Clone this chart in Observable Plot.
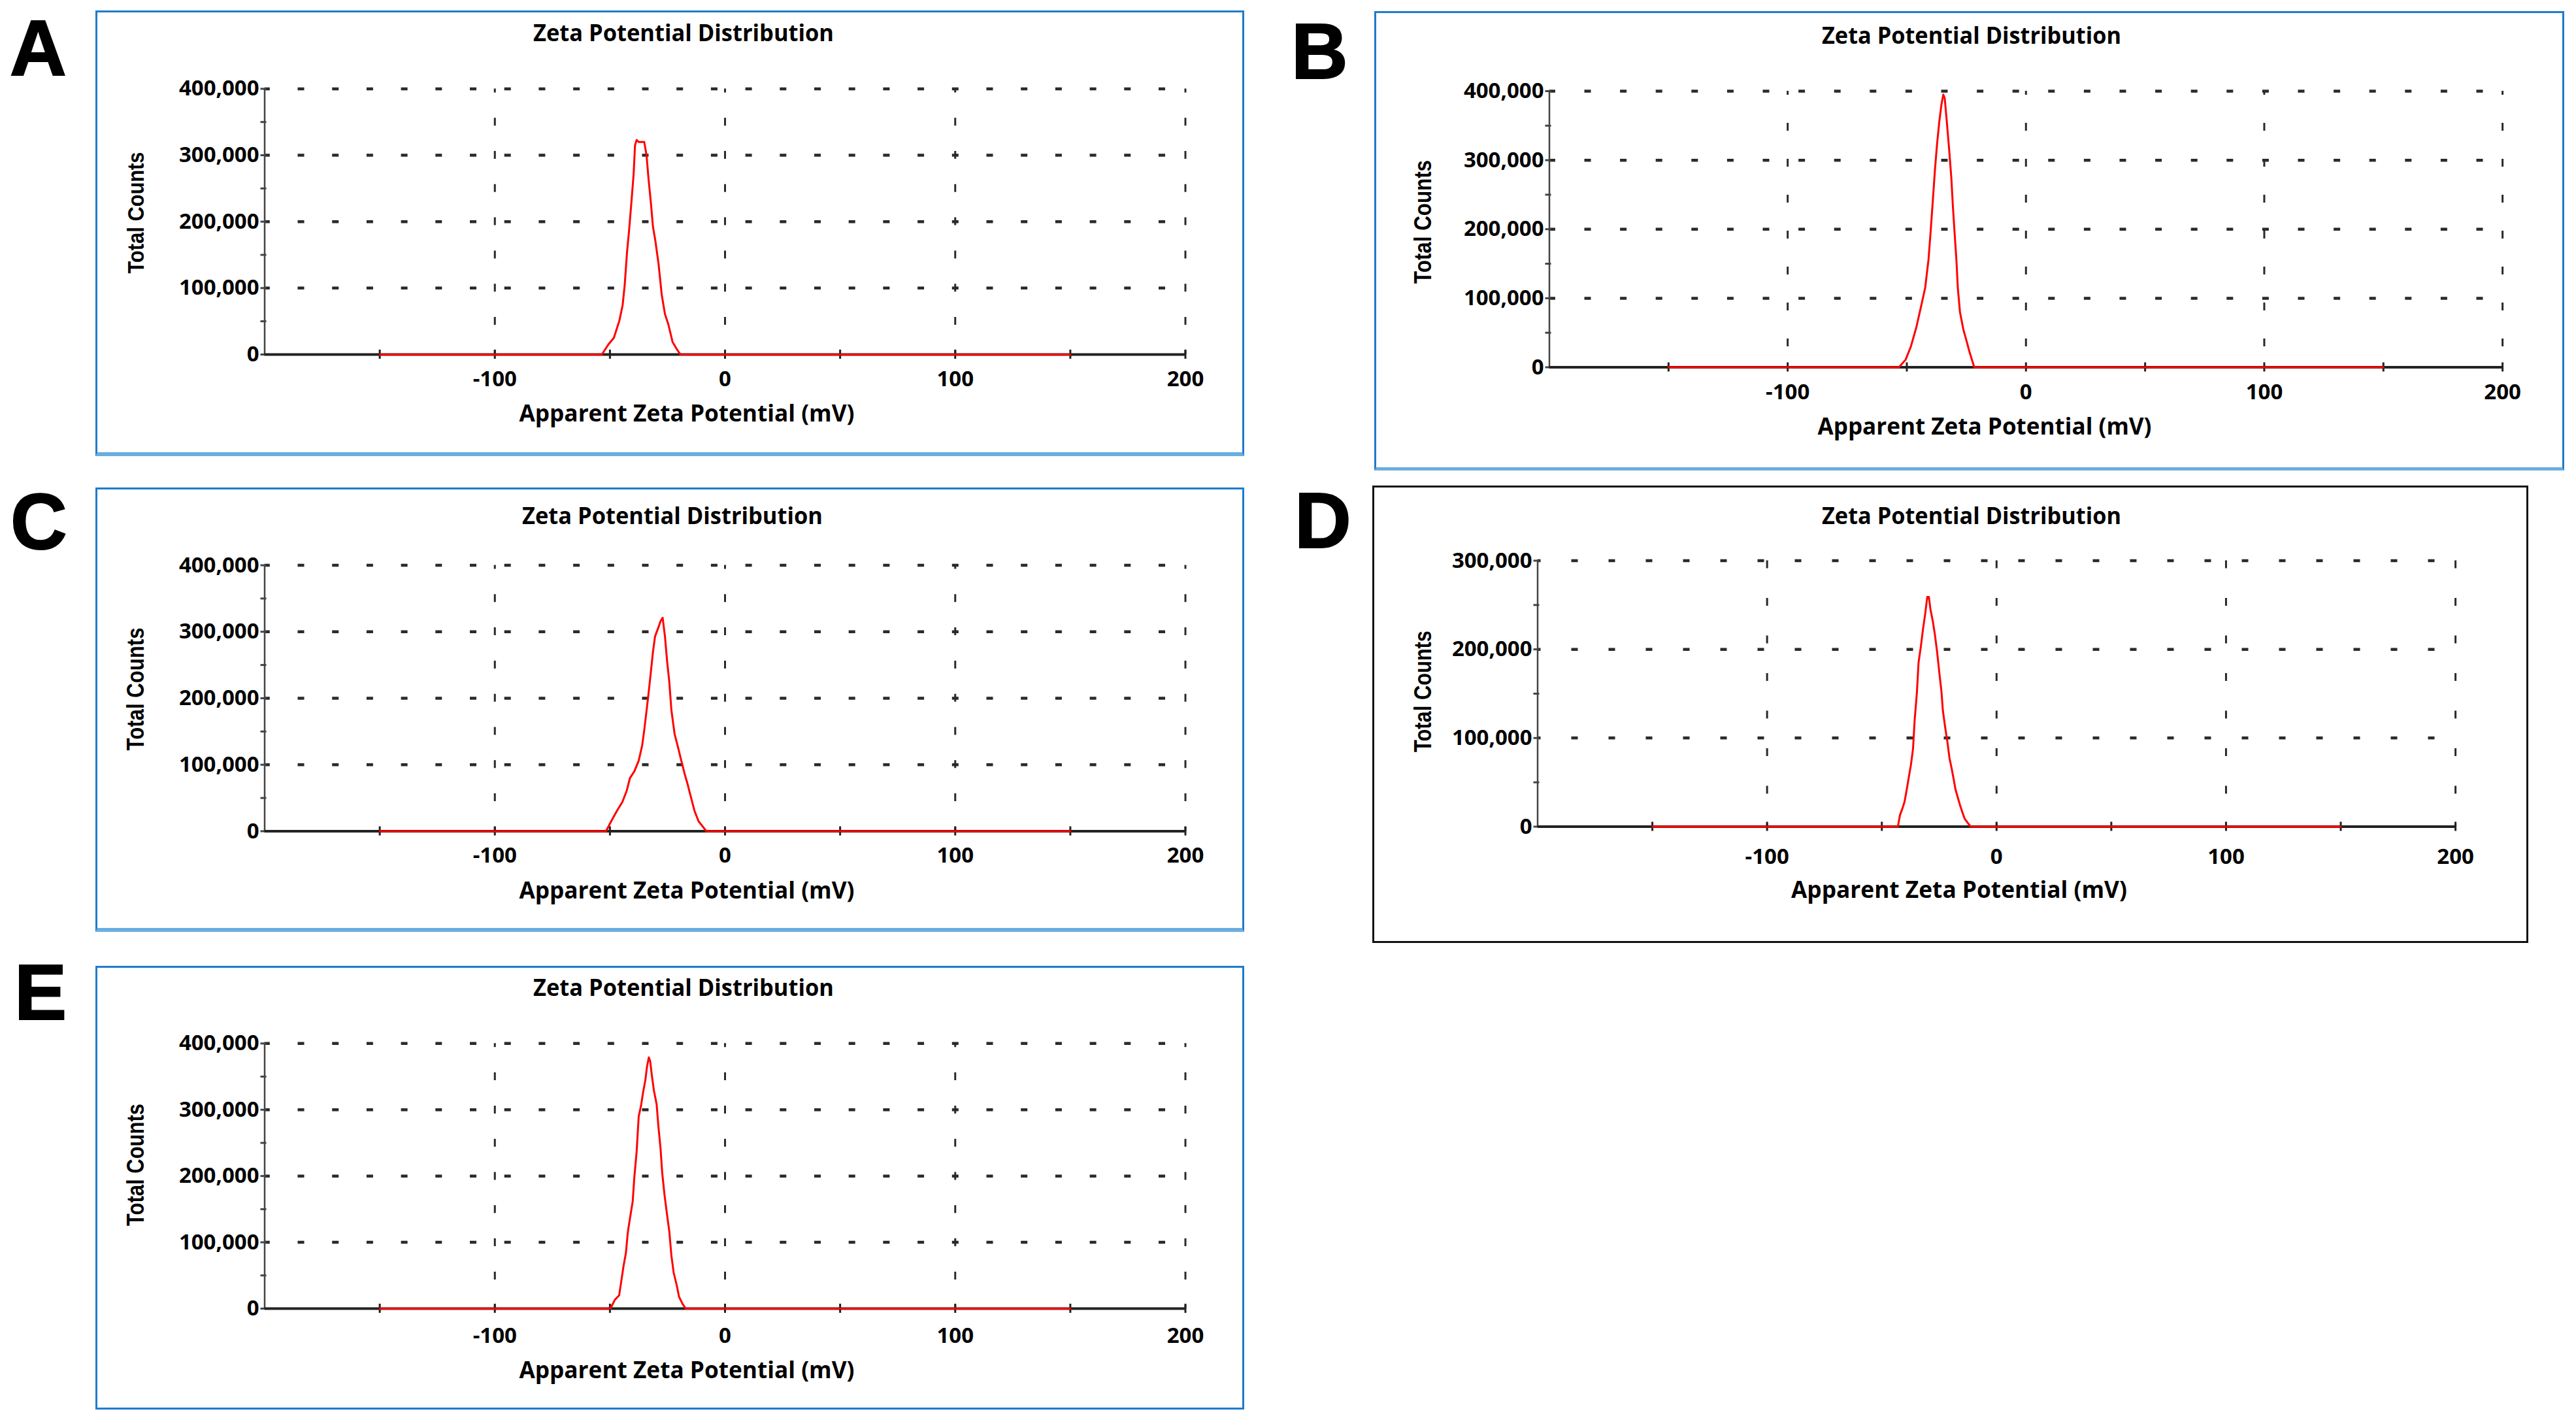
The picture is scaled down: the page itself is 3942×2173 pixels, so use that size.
<!DOCTYPE html>
<html>
<head>
<meta charset="utf-8">
<script src="https://cdn.jsdelivr.net/npm/d3@7"></script>
<script src="https://cdn.jsdelivr.net/npm/@observablehq/plot@0.6"></script>
<style>
html, body { margin: 0; padding: 0; background: #fff; }
#page { position: relative; width: 3942px; height: 2173px; background: #fff; overflow: hidden; }
.box { position: absolute; box-sizing: border-box; pointer-events: none; }
.panel { position: absolute; }
</style>
</head>
<body>
<div id="page"></div>
<script>
// ---------- data ----------
const mvA  = [-150, -53.5, -50.7, -48.3, -45.9, -44.5, -43.6, -42.6, -41.7, -40.7, -39.7, -39.1, -38.4, -37.5, -35.1, -34.1, -33.2, -32.2, -31.3, -30.3, -28.9, -27.5, -26.1, -24.6, -22.8, -21.3, -19.4, 150];
const cntA = [0, 0, 15000, 25000, 51000, 74000, 104000, 153000, 186000, 228000, 272000, 315000, 323000, 320000, 320000, 300000, 263000, 228000, 192000, 172000, 137000, 90000, 61000, 45000, 19000, 10000, 0, 0];

const mvB  = [-150, -53.3, -50.5, -48.3, -46, -44.1, -42.3, -40.9, -40, -39.1, -38.2, -37.3, -36.4, -35.5, -34.7, -34.1, -33.2, -32.2, -31.3, -30.7, -30, -29.2, -28.6, -27.7, -26.3, -25, -23.6, -21.7, 150];
const cntB = [0, 0, 11000, 30000, 58000, 87000, 115000, 156000, 197000, 241000, 286000, 324000, 355000, 380000, 395000, 390000, 355000, 314000, 273000, 235000, 197000, 156000, 115000, 80000, 55000, 39000, 21000, 0, 0];

const mvC  = [-150, -51.7, -49.3, -46.9, -44.6, -42.7, -41.3, -39.4, -37.5, -36, -35.1, -34.2, -33.2, -32.3, -31.3, -30.4, -29, -28, -27.1, -26.1, -25.2, -24.2, -23.3, -21.9, -20.4, -19, -17.6, -16.2, -14.8, -13.3, -11.5, -8.1, 150];
const cntC = [0, 0, 16000, 31000, 44000, 61000, 80000, 90000, 106000, 129000, 152000, 178000, 208000, 237000, 270000, 293000, 306000, 316000, 321000, 293000, 257000, 224000, 182000, 146000, 126000, 106000, 87000, 70000, 51000, 31000, 15000, 0, 0];

const mvD  = [-150, -43, -42.1, -41.1, -40.1, -39.2, -38.3, -37.3, -36.4, -35.7, -34.7, -34, -33, -32.1, -31.1, -30.2, -29.5, -28.8, -27.8, -26.9, -25.9, -25, -24, -23.4, -22.4, -21.5, -20.5, -19.6, -18.8, -17.9, -16.9, -15.9, -15, -13.9, -12.2, -11.3, 150];
const cntD = [0, 0, 13000, 20000, 28000, 41000, 55000, 70000, 88000, 120000, 152000, 185000, 203000, 222000, 240000, 259000, 259000, 245000, 232000, 217000, 197000, 175000, 152000, 131000, 112000, 97000, 77000, 66000, 55000, 42000, 33000, 24000, 17000, 9000, 3000, 0, 0];

const mvE  = [-150, -49.8, -47.9, -46, -45, -44.1, -43.1, -42.2, -41.3, -40.1, -39.4, -38.4, -37.5, -36.5, -35.6, -34.6, -33.9, -33.1, -32.5, -31.8, -30.9, -29.7, -29, -28, -27.3, -26.3, -25.2, -24.2, -23.3, -22.3, -20.9, -20, -18.6, -17.1, 150];
const cntE = [0, 0, 13000, 20000, 43000, 64000, 83000, 116000, 136000, 162000, 198000, 237000, 290000, 306000, 326000, 345000, 365000, 379000, 373000, 352000, 329000, 308000, 277000, 241000, 205000, 172000, 142000, 116000, 80000, 54000, 34000, 18000, 8000, 0, 0];

// ---------- ticks and texts ----------
const xLabelTicks = [-100, 0, 100, 200];
const xAxisTicks  = [-150, -100, -50, 0, 50, 100, 150, 200];
const yTicks400   = [0, 100000, 200000, 300000, 400000];
const yTicks300   = [0, 100000, 200000, 300000];
const yMinor400   = [0, 50000, 100000, 150000, 200000, 250000, 300000, 350000, 400000];
const yMinor300   = [0, 50000, 100000, 150000, 200000, 250000, 300000];
const titleText  = "Zeta Potential Distribution";
const xLabelText = "Apparent Zeta Potential (mV)";
const yLabelText = "Total Counts";

// ---------- layout (pixels) ----------
const BLUE = "#1f7bcc", LIGHT = "#6aaee0", BLACK = "#111";
const panels = [
  {id: "A", mv: mvA, cnt: cntA, yMax: 400000, yTicks: yTicks400, yMinor: yMinor400,
   box: [145.5, 16, 1904, 697.7], plot: [404, 135.4, 1813, 542], color: BLUE, bottom: [6, LIGHT],
   hDot: {period: 52.7, start: 51}, vDash: {period: 50.8, off: 6}, xPad: 37.5,
   title: [1045, 51.5, 460], xlab: [1050, 633.5, 513], ylab: [207, 325, 186], letter: [15, 115]},
  {id: "B", mv: mvB, cnt: cntB, yMax: 400000, yTicks: yTicks400, yMinor: yMinor400,
   box: [2102.5, 17, 3924, 720], plot: [2370, 139, 3828.6, 561.5], color: BLUE, bottom: [5, LIGHT],
   hDot: {period: 54.6, start: 54}, vDash: {period: 55, off: 6}, xPad: 37.5,
   title: [3016, 55, 458], xlab: [3036, 653, 511], ylab: [2177, 339, 189], letter: [1976, 120]},
  {id: "C", mv: mvC, cnt: cntC, yMax: 400000, yTicks: yTicks400, yMinor: yMinor400,
   box: [145.5, 746, 1904, 1426], plot: [404, 864.5, 1813, 1271.5], color: BLUE, bottom: [6, LIGHT],
   hDot: {period: 52.7, start: 51}, vDash: {period: 50.8, off: 6}, xPad: 36.5,
   title: [1028, 790, 460], xlab: [1050, 1363.5, 513], ylab: [207, 1054, 188], letter: [16, 840]},
  {id: "D", mv: mvD, cnt: cntD, yMax: 300000, yTicks: yTicks300, yMinor: yMinor300,
   box: [2099.5, 742.5, 3869, 1443], plot: [2352, 857, 3756.6, 1264], color: BLACK, bottom: [3, BLACK],
   hDot: {period: 57, start: 52}, vDash: {period: 57.5, off: 0}, xPad: 45.5,
   title: [3016, 790, 458], xlab: [2997, 1361.5, 514], ylab: [2177, 1057, 186], letter: [1981, 838]},
  {id: "E", mv: mvE, cnt: cntE, yMax: 400000, yTicks: yTicks400, yMinor: yMinor400,
   box: [145.5, 1478, 1904, 2157], plot: [404, 1596.3, 1813, 2002], color: BLUE, bottom: [3, BLUE],
   hDot: {period: 52.7, start: 51}, vDash: {period: 50.8, off: 6}, xPad: 41,
   title: [1045, 1512, 460], xlab: [1050, 2097.5, 513], ylab: [207, 1782, 187], letter: [22, 1560]}
];

const page = document.getElementById("page");
const FONT = "'Open Sans', 'DejaVu Sans', sans-serif";

function makePanel(p) {
  const [bx0, by0, bx1, by1] = p.box;
  const [pl, pt, pr, pb] = p.plot;
  const data = p.mv.map((v, i) => ({mv: v, count: p.cnt[i]}));
  const grid = p.yTicks.filter(d => d > 0);
  const hd = p.hDot, vd = p.vDash;
  const label = (s, pos, extra) => Plot.text([s], {
    text: d => d, frameAnchor: "top-left", textAnchor: "middle", lineAnchor: "middle",
    dx: pos[0] - pl, dy: pos[1] - pt, ...extra
  });
  const svg = Plot.plot({
    width: bx1 - bx0,
    height: by1 - by0,
    marginLeft: pl - bx0,
    marginRight: bx1 - pr,
    marginTop: pt - by0,
    marginBottom: by1 - pb,
    x: {type: "linear", domain: [-200, 200]},
    y: {type: "linear", domain: [0, p.yMax]},
    style: {fontFamily: FONT, fontSize: "33px", fontWeight: "bold", color: "#000", background: "transparent", overflow: "visible"},
    marks: [
      Plot.ruleY(grid, {stroke: "#2a2a2a", strokeWidth: 4.5, strokeDasharray: `10 ${hd.period - 10}`, strokeDashoffset: hd.period - hd.start}),
      Plot.ruleX(xLabelTicks, {stroke: "#2a2a2a", strokeWidth: 3, strokeDasharray: `12 ${vd.period - 12}`, strokeDashoffset: vd.off}),
      Plot.ruleX([-200], {stroke: "#444", strokeWidth: 2.5}),
      Plot.ruleY(p.yMinor, {x1: -200, x2: -200, insetLeft: -6, insetRight: -3, stroke: "#444", strokeWidth: 3}),
      Plot.ruleY([0], {stroke: "#222", strokeWidth: 4}),
      Plot.ruleX(xAxisTicks, {y1: 0, y2: 0, insetTop: -7, insetBottom: -7, stroke: "#222", strokeWidth: 3}),
      Plot.line(data, {x: "mv", y: "count", stroke: "#ff0000", strokeWidth: 3}),
      Plot.axisY({ticks: p.yTicks, tickFormat: d3.format(","), tickSize: 0, tickPadding: 8.5, label: null}),
      Plot.axisX({ticks: xLabelTicks, tickFormat: d => String(d), tickSize: 0, tickPadding: p.xPad - 12, label: null}),
      label(titleText, p.title, {fontSize: 35, fontWeight: "bold"}),
      label(xLabelText, p.xlab, {fontSize: 35, fontWeight: "bold"}),
      label(yLabelText, p.ylab, {rotate: -90, fontSize: 36, fontWeight: "bold", fontFamily: "'Liberation Sans', Arial, sans-serif"})
    ]
  });
  svg.classList.add("panel");
  svg.style.left = bx0 + "px";
  svg.style.top = by0 + "px";
  page.appendChild(svg);
  svg.querySelectorAll("text").forEach(t => {
    const s = t.textContent;
    let len = null;
    if (s === titleText) len = p.title[2];
    else if (s === xLabelText) len = p.xlab[2];
    else if (s === yLabelText) len = p.ylab[2];
    if (len) { t.setAttribute("textLength", len); t.setAttribute("lengthAdjust", "spacingAndGlyphs"); }
  });
  const box = document.createElement("div");
  box.className = "box";
  box.style.left = bx0 + "px";
  box.style.top = by0 + "px";
  box.style.width = (bx1 - bx0) + "px";
  box.style.height = (by1 - by0) + "px";
  box.style.border = `3px solid ${p.color}`;
  box.style.borderBottom = `${p.bottom[0]}px solid ${p.bottom[1]}`;
  page.appendChild(box);
}

panels.forEach(makePanel);

// panel letters
const ov = d3.select(page).append("svg")
  .attr("width", 3942).attr("height", 2173)
  .style("position", "absolute").style("left", "0px").style("top", "0px")
  .style("pointer-events", "none");
ov.selectAll("text").data(panels).join("text")
  .attr("x", p => p.letter[0])
  .attr("y", p => p.letter[1])
  .attr("font-family", "'Liberation Sans', Arial, sans-serif")
  .attr("font-weight", "bold")
  .attr("font-size", 120)
  .attr("fill", "#000")
  .attr("stroke", "#000")
  .attr("stroke-width", 2)
  .text(p => p.id);
</script>
</body>
</html>
